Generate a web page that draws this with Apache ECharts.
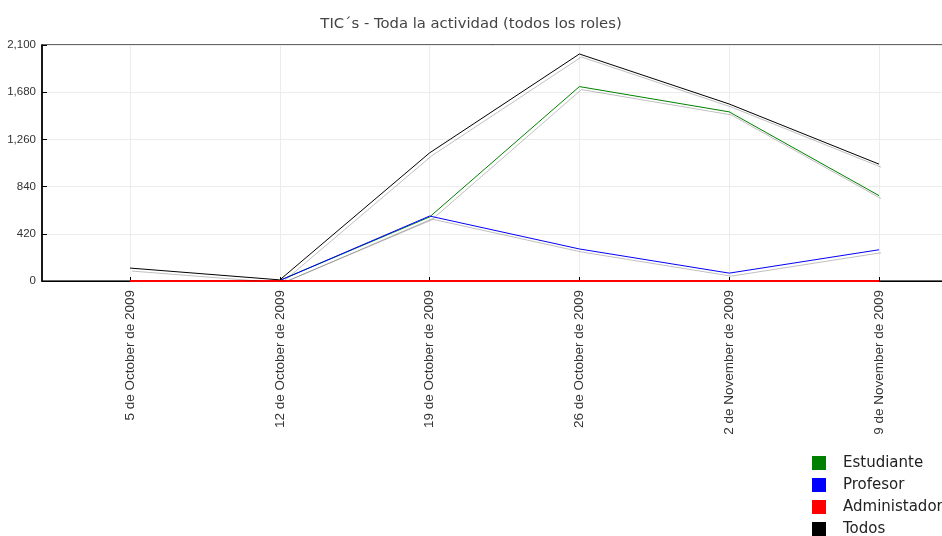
<!DOCTYPE html>
<html>
<head>
<meta charset="utf-8">
<script src="https://cdn.jsdelivr.net/npm/echarts@6/dist/echarts.min.js"></script>
<style>
  html, body { margin: 0; padding: 0; background: #fff; }
  #chart { width: 942px; height: 536px; }
</style>
</head>
<body>
<div id="chart"></div>
<script>
// semanas
const weeks = ['5 de October de 2009', '12 de October de 2009', '19 de October de 2009',
    '26 de October de 2009', '2 de November de 2009', '9 de November de 2009'];

// actividad por rol
const estudiante = [null, 5, 570, 1730, 1505, 760];
const profesor = [null, 5, 578, 285, 70, 278];
const administador = [0, 0, 0, 0, 0, 0];
const todos = [115, 10, 1140, 2020, 1575, 1040];

const yTicks = [0, 420, 840, 1260, 1680, 2100];
const xTicks = [0, 1, 2, 3, 4, 5];

const chart = echarts.init(document.getElementById('chart'));

function toPoints(arr) {
    return arr.map((v, i) => [i, v]);
}

function makeSeries(name, color, values, width) {
    return {
        name: name,
        type: 'line',
        data: toPoints(values),
        showSymbol: false,
        symbol: 'none',
        connectNulls: false,
        animation: false,
        lineStyle: {
            color: color,
            width: width || 1,
            shadowColor: 'rgba(0,0,0,0.25)',
            shadowBlur: 0.5,
            shadowOffsetX: 2,
            shadowOffsetY: 3
        },
        itemStyle: { color: color }
    };
}

// eje x: la primera semana cae a 88px del borde izquierdo, ~150px entre semanas
const step = 149.8;
const xMin = -88 / step;
const xMax = xMin + 912 / step;

const option = {
    backgroundColor: '#fff',
    animation: false,
    title: {
        text: 'TIC´s - Toda la actividad (todos los roles)',
        left: 'center',
        top: 12,
        textStyle: {
            fontFamily: 'DejaVu Sans',
            fontSize: 14.8,
            fontWeight: 'normal',
            color: '#444'
        }
    },
    legend: {
        orient: 'vertical',
        left: 812,
        top: 455,
        height: 120,
        padding: 0,
        itemWidth: 14,
        itemHeight: 14,
        itemGap: 6,
        icon: 'rect',
        textStyle: {
            fontFamily: 'DejaVu Sans', fontSize: 15, lineHeight: 16,
            color: '#222', padding: [0, 0, 0, 12]
        },
        data: ['Estudiante', 'Profesor', 'Administador', 'Todos']
    },
    grid: {
        left: 42,
        top: 45,
        right: -12,
        bottom: 255,
        outerBoundsMode: 'none',
        show: true,
        borderColor: '#333',
        borderWidth: 1.5
    },
    xAxis: {
        type: 'value',
        min: xMin,
        max: xMax,
        axisLine: { show: true, onZero: false, lineStyle: { color: '#000', width: 1 } },
        axisTick: { show: true, inside: true, length: 4, customValues: xTicks, lineStyle: { color: '#000' } },
        axisLabel: {
            customValues: xTicks,
            rotate: 90,
            margin: 9,
            fontFamily: 'Liberation Sans',
            fontSize: 13.5,
            color: '#333',
            formatter: (v) => weeks[Math.round(v)]
        },
        splitLine: { show: true, lineStyle: { color: '#ececec' } }
    },
    yAxis: {
        type: 'value',
        min: 0,
        max: 2100,
        interval: 420,
        axisLine: { show: true, onZero: false, lineStyle: { color: '#000', width: 1.5 } },
        axisTick: { show: true, inside: true, length: 5, lineStyle: { color: '#000' } },
        axisLabel: {
            margin: 6,
            fontFamily: 'Liberation Sans',
            fontSize: 11.5,
            color: '#333',
            customValues: yTicks
        },
        splitLine: { show: true, lineStyle: { color: '#ececec' } }
    },
    series: [
        makeSeries('Estudiante', '#008000', estudiante),
        makeSeries('Profesor', '#0000ff', profesor),
        makeSeries('Administador', '#ff0000', administador, 2),
        makeSeries('Todos', '#000000', todos)
    ]
};

chart.setOption(option);
</script>
</body>
</html>
